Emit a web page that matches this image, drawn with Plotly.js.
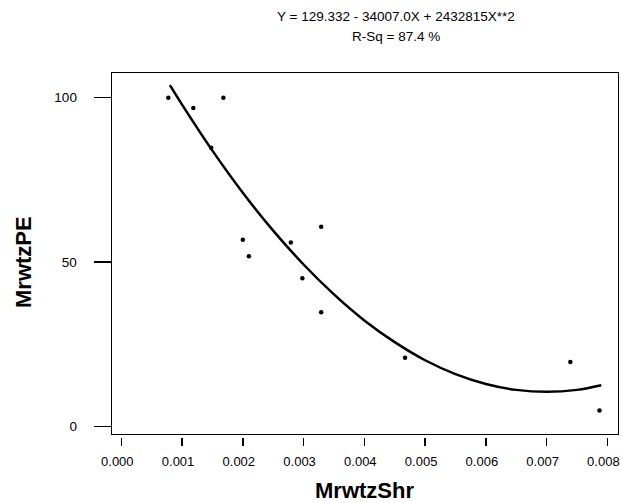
<!DOCTYPE html>
<html>
<head>
<meta charset="utf-8">
<script src="https://cdn.plot.ly/plotly-3.0.1.min.js"></script>
<style>html,body{margin:0;padding:0;background:#fff;}#chart{width:622px;height:503px;}</style>
</head>
<body>
<div id="chart"></div>
<script>
// Observed data points
const shrValues = [0.000774, 0.001185, 0.00168, 0.00148, 0.0020, 0.0021, 0.00279, 0.00298, 0.00329, 0.00329, 0.00467, 0.00739, 0.00787];
const peValues  = [99.9, 96.8, 99.9, 84.7, 56.7, 51.7, 55.9, 45.0, 60.7, 34.7, 20.9, 19.6, 4.8];

// Fitted curve
const fitX = [0.0008, 0.0010, 0.0015, 0.0020, 0.0025, 0.0030, 0.0035, 0.0040, 0.0045, 0.0050, 0.0055, 0.0060, 0.0065, 0.0070, 0.0075, 0.0079];
const fitY = [103.7, 97.8, 83.8, 71.0, 59.5, 49.2, 40.1, 32.2, 25.6, 20.1, 15.9, 12.9, 11.1, 10.5, 11.1, 12.5];

const xTicks = [0, 0.001, 0.002, 0.003, 0.004, 0.005, 0.006, 0.007, 0.008];
const xTickLabels = ["0.000", "0.001", "0.002", "0.003", "0.004", "0.005", "0.006", "0.007", "0.008"];
const yTicks = [0, 50, 100];
const yTickLabels = ["0", "50", "100"];

const titleLine1 = "Y = 129.332 - 34007.0X + 2432815X**2";
const titleLine2 = "R-Sq = 87.4 %";
const xTitle = "MrwtzShr";
const yTitle = "MrwtzPE";

const W = 622, H = 503;
const M = {l: 112, r: 4, t: 73, b: 60};
const plotW = W - M.l - M.r;
const plotH = H - M.t - M.b;
const boxBottomPx = 434;
const xTickTopPx = 436.7;
const xRange = [-0.000153, 0.008175];
const yRange = [-2.31, 107.4];

const FONT = "Liberation Sans, Arial, sans-serif";

function px2fx(px) { return (px - M.l) / plotW; }
function py2fy(py) { return (H - M.b - py) / plotH; }

const traces = [
  {
    x: fitX, y: fitY, type: "scatter", mode: "lines",
    line: {color: "#000", width: 2.5, shape: "spline"},
    hoverinfo: "skip", showlegend: false
  },
  {
    x: shrValues, y: peValues, type: "scatter", mode: "markers",
    marker: {color: "#000", size: 4.5},
    showlegend: false
  },
  {
    x: xTicks, y: xTicks.map(() => 50), type: "scatter", mode: "markers",
    xaxis: "x2", yaxis: "y",
    marker: {opacity: 0}, hoverinfo: "skip", showlegend: false
  }
];

const layout = {
  width: W, height: H,
  margin: M,
  paper_bgcolor: "#fff", plot_bgcolor: "#fff",
  font: {family: FONT, color: "#000", size: 13.5},
  showlegend: false,
  xaxis: {
    range: xRange, anchor: "y",
    showline: true, mirror: true, linecolor: "#000", linewidth: 1.4,
    showgrid: false, zeroline: false, ticks: "", showticklabels: false
  },
  xaxis2: {
    range: xRange, overlaying: "x", anchor: "free",
    position: py2fy(xTickTopPx),
    showline: false, showgrid: false, zeroline: false,
    ticks: "outside", ticklen: 8, tickwidth: 1.4, tickcolor: "#000",
    tickmode: "array", tickvals: xTicks, ticktext: xTickLabels,
    tickfont: {family: FONT, size: 13, color: "#000"},
    ticklabelstandoff: 5, ticklabelshift: -4, ticklabeloverflow: "allow"
  },
  yaxis: {
    range: yRange, domain: [py2fy(boxBottomPx), 1],
    showline: true, mirror: true, linecolor: "#000", linewidth: 1.4,
    showgrid: false, zeroline: false,
    ticks: "outside", ticklen: 17, tickwidth: 1.4, tickcolor: "#000",
    tickmode: "array", tickvals: yTicks, ticktext: yTickLabels,
    tickfont: {family: FONT, size: 13.5, color: "#000"},
    ticklabelstandoff: 14
  },
  annotations: [
    {text: titleLine1, xref: "paper", yref: "paper", x: px2fx(396), y: py2fy(16.5),
     xanchor: "center", yanchor: "middle", showarrow: false, font: {family: FONT, size: 13.5, color: "#000"}},
    {text: titleLine2, xref: "paper", yref: "paper", x: px2fx(396), y: py2fy(36.5),
     xanchor: "center", yanchor: "middle", showarrow: false, font: {family: FONT, size: 13.5, color: "#000"}},
    {text: xTitle, xref: "paper", yref: "paper", x: px2fx(364), y: py2fy(490),
     xanchor: "center", yanchor: "middle", showarrow: false, font: {family: FONT, size: 22, color: "#000", weight: "bold"}},
    {text: yTitle, xref: "paper", yref: "paper", x: px2fx(23.5), y: py2fy(262.5),
     xanchor: "center", yanchor: "middle", textangle: -90, showarrow: false, font: {family: FONT, size: 22, color: "#000", weight: "bold"}}
  ]
};

Plotly.newPlot("chart", traces, layout, {displayModeBar: false, staticPlot: true});
</script>
</body>
</html>
